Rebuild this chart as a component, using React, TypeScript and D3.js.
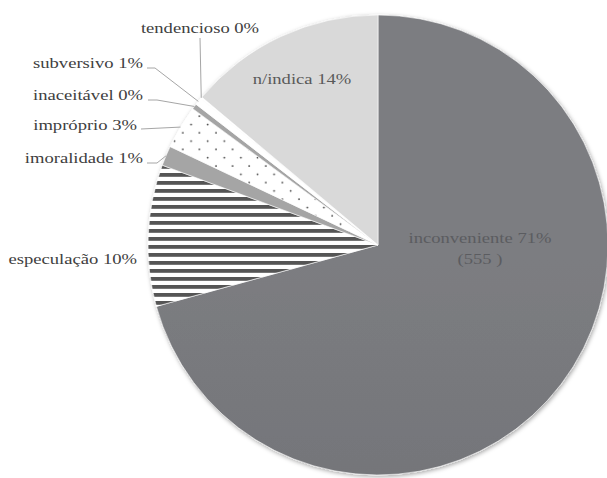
import { arc, pie } from 'd3'

type Slice = {
  readonly name: string
  readonly value: number
}

// clockwise from 12 o'clock
const categories = [
  'inconveniente',
  'especulação',
  'imoralidade',
  'impróprio',
  'inaceitável',
  'subversivo',
  'tendencioso',
  'n/indica',
] as const

const counts = [555, 78, 11, 24, 3, 4, 1, 109] as const

const fills = [
  'url(#grad-main)',
  'url(#stripes)',
  '#a5a5a5',
  'url(#dots)',
  '#a5a5a5',
  '#ffffff',
  '#ffffff',
  '#d9d9d9',
] as const

// label anchor, text-anchor, and optional leader-line start / elbow
type LabelSpot = {
  readonly x: number
  readonly y: number
  readonly anchor: 'start' | 'middle' | 'end'
  readonly color: string
  readonly leader?: readonly [number, number][]
}

const labelSpots: readonly LabelSpot[] = [
  { x: 480, y: 243, anchor: 'middle', color: '#5b5c60' },
  { x: 137, y: 264, anchor: 'end', color: '#404040' },
  { x: 143, y: 163, anchor: 'end', color: '#404040', leader: [[147, 163], [157, 163]] },
  { x: 137, y: 130, anchor: 'end', color: '#404040', leader: [[141, 129]] },
  { x: 143, y: 100, anchor: 'end', color: '#404040', leader: [[148, 100], [157, 100]] },
  { x: 143, y: 68, anchor: 'end', color: '#404040', leader: [[147, 68], [155, 68]] },
  { x: 200, y: 33, anchor: 'middle', color: '#404040', leader: [[200, 38]] },
  { x: 302, y: 84, anchor: 'middle', color: '#595959' },
]

const width = 607
const height = 478
const cx = 378
const cy = 245
const radius = 230
const textStretch = 1.2
const serif = 'Liberation Serif, Times New Roman, DejaVu Serif, serif'

function Label({ x, y, anchor, color, text }: { x: number; y: number; anchor: string; color: string; text: string }) {
  return (
    <text
      transform={`translate(${x},${y}) scale(${textStretch},1)`}
      textAnchor={anchor}
      fill={color}
      style={{ fontFamily: serif, fontSize: '15.5px' }}
    >
      {text}
    </text>
  )
}

export default function App() {
  const slices: Slice[] = categories.map((name, i) => ({ name, value: counts[i] }))
  const total = counts.reduce((sum, v) => sum + v, 0)
  const arcs = pie<Slice>()
    .sort(null)
    .value((d) => d.value)
    .startAngle(0)
    .endAngle(Math.PI * 2)(slices)
  const arcPath = arc<(typeof arcs)[number]>().innerRadius(0).outerRadius(radius)

  const edgePoint = (angle: number): [number, number] => [
    cx + radius * Math.sin(angle),
    cy - radius * Math.cos(angle),
  ]

  return (
    <svg
      width={width}
      height={height}
      viewBox={`0 0 ${width} ${height}`}
      style={{ position: 'absolute', left: 0, top: 0, background: '#ffffff' }}
    >
      <defs>
        <linearGradient id="grad-main" gradientUnits="userSpaceOnUse" x1={0} y1={cy - radius} x2={0} y2={cy + radius}>
          <stop offset="0%" stopColor="#7c7d81" />
          <stop offset="100%" stopColor="#6c6d71" />
        </linearGradient>
        <pattern id="stripes" patternUnits="userSpaceOnUse" width={8} height={8}>
          <rect width={8} height={8} fill="#ffffff" />
          <rect y={0} width={8} height={3.8} fill="#555555" />
        </pattern>
        <pattern id="dots" patternUnits="userSpaceOnUse" width={16.6} height={16.6}>
          <rect width={16.6} height={16.6} fill="#ffffff" />
          <circle cx={4} cy={4} r={0.9} fill="#3a3a3a" />
          <circle cx={12.3} cy={12.3} r={0.9} fill="#3a3a3a" />
        </pattern>
        <filter id="shadow" x="-10%" y="-10%" width="120%" height="120%">
          <feDropShadow dx={1} dy={1.5} stdDeviation={2} floodColor="#000000" floodOpacity={0.35} />
        </filter>
      </defs>

      <g filter="url(#shadow)">
        <g transform={`translate(${cx},${cy})`}>
          {arcs.map((a, i) => (
            <path key={a.data.name} d={arcPath(a) ?? ''} fill={fills[i]} stroke="#ffffff" strokeWidth={0.6} />
          ))}
        </g>
      </g>

      {arcs.map((a, i) => {
        const spot = labelSpots[i]
        if (!spot.leader) return null
        const mid = (a.startAngle + a.endAngle) / 2
        const pts = [...spot.leader, edgePoint(mid)]
        return (
          <polyline
            key={`leader-${a.data.name}`}
            points={pts.map((p) => p.join(',')).join(' ')}
            fill="none"
            stroke="#a6a6a6"
            strokeWidth={1}
          />
        )
      })}

      {arcs.map((a, i) => {
        const spot = labelSpots[i]
        const pct = `${Math.round((a.data.value / total) * 100)}%`
        return (
          <g key={`label-${a.data.name}`}>
            <Label x={spot.x} y={spot.y} anchor={spot.anchor} color={spot.color} text={`${a.data.name} ${pct}`} />
            {i === 0 && (
              <Label x={spot.x} y={spot.y + 21} anchor={spot.anchor} color={spot.color} text={`(${a.data.value} )`} />
            )}
          </g>
        )
      })}
    </svg>
  )
}
